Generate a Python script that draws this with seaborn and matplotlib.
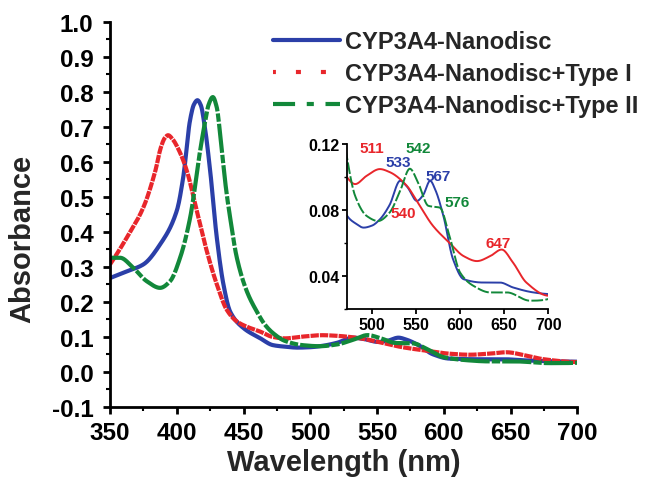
import numpy as np
import pandas as pd
import matplotlib
matplotlib.use("Agg")
import matplotlib.pyplot as plt
from matplotlib.ticker import MultipleLocator, FormatStrFormatter
from matplotlib.lines import Line2D
import seaborn as sns

# Absorbance spectra (wavelength in nm)
wl_free = [350, 362.5, 375, 387.5, 400, 405, 410, 413, 415.5, 418, 421, 425, 430, 435,
           440, 450, 462.5, 472, 481, 490.6, 500, 509, 520, 532, 540, 551, 558, 566, 572,
           581, 592, 604, 626, 645, 660, 683, 700]
abs_free = [0.268, 0.287, 0.307, 0.364, 0.46, 0.56, 0.72, 0.765, 0.776, 0.762, 0.70,
            0.575, 0.383, 0.249, 0.172, 0.125, 0.096, 0.0764, 0.072, 0.0693, 0.0705,
            0.0743, 0.083, 0.0977, 0.094, 0.0855, 0.089, 0.0977, 0.092, 0.0764, 0.050,
            0.038, 0.036, 0.036, 0.033, 0.030, 0.029]

wl_type1 = [350, 362.5, 375, 384, 388, 391, 393.5, 397, 402, 407.5, 415, 422.5, 430,
            437.5, 445, 452.5, 462.5, 472, 481, 494, 509, 520, 539, 552, 569, 588, 604,
            619, 634, 647, 660, 675, 700]
abs_type1 = [0.307, 0.383, 0.47, 0.575, 0.64, 0.668, 0.676, 0.664, 0.63, 0.575, 0.46,
             0.345, 0.25, 0.177, 0.144, 0.129, 0.115, 0.0997, 0.0957, 0.1007, 0.1048,
             0.103, 0.095, 0.0845, 0.0705, 0.060, 0.052, 0.049, 0.052, 0.056, 0.048,
             0.036, 0.028]

wl_type2 = [350, 357.5, 367.5, 377.5, 387.5, 395, 402.5, 410, 417.5, 421, 424, 427,
            430, 433, 437, 440, 445, 452.5, 460, 466, 472, 481, 494, 507, 520, 532, 543,
            552, 564, 577, 588, 600, 615, 634, 653, 679, 700]
abs_type2 = [0.326, 0.326, 0.297, 0.259, 0.24, 0.259, 0.326, 0.44, 0.632, 0.71, 0.765,
             0.785, 0.755, 0.66, 0.52, 0.44, 0.326, 0.23, 0.172, 0.135, 0.111, 0.0885,
             0.0764, 0.0733, 0.0784, 0.0916, 0.105, 0.097, 0.0825, 0.0814, 0.064, 0.042,
             0.034, 0.030, 0.030, 0.025, 0.026]

series_names = ["CYP3A4-Nanodisc", "CYP3A4-Nanodisc+Type I", "CYP3A4-Nanodisc+Type II"]
series_colors = ["#2b3fa8", "#e8262b", "#12883a"]

# Peak labels in the visible region: (text, x, y, series index)
peak_labels = [("511", 500, 0.1175, 1), ("533", 530, 0.109, 0), ("542", 552, 0.1175, 2),
               ("567", 575, 0.1005, 0), ("540", 535, 0.078, 1), ("576", 596, 0.085, 2),
               ("647", 643, 0.060, 1)]


def resample(x, y, n=700):
    """Evaluate a shape-preserving curve through the measured points on a fine grid."""
    xs = np.linspace(min(x), max(x), n)
    s = pd.Series(y, index=np.asarray(x, float))
    s = s.reindex(s.index.union(xs)).interpolate(method="pchip")
    return xs, s.loc[xs].values


frames = []
for name, x, y in zip(series_names, [wl_free, wl_type1, wl_type2],
                      [abs_free, abs_type1, abs_type2]):
    xs, ys = resample(x, y)
    frames.append(pd.DataFrame({"Wavelength": xs, "Absorbance": ys, "Sample": name}))
df = pd.concat(frames, ignore_index=True)

sns.set_theme(style="ticks")
plt.rcParams["font.family"] = ["Liberation Sans", "DejaVu Sans"]
plt.rcParams["font.weight"] = "bold"

fig = plt.figure(figsize=(6.49, 4.85), dpi=100)
ax = fig.add_axes([0.1695, 0.159, 0.72, 0.794])

palette = dict(zip(series_names, series_colors))
dashes = {series_names[0]: "",
          series_names[1]: (2.0, 0.25),
          series_names[2]: (7, 0.5, 2, 0.5)}
sns.lineplot(data=df, x="Wavelength", y="Absorbance", hue="Sample", style="Sample",
             palette=palette, dashes=dashes, linewidth=3.0, ax=ax, legend=False)

ax.set_xlim(350, 700)
ax.set_ylim(-0.1, 1.0)
ax.xaxis.set_major_locator(MultipleLocator(50))
ax.xaxis.set_minor_locator(MultipleLocator(25))
ax.yaxis.set_major_locator(MultipleLocator(0.1))
ax.yaxis.set_minor_locator(MultipleLocator(0.05))
ax.yaxis.set_major_formatter(FormatStrFormatter("%.1f"))
sns.despine(ax=ax)
for sp in ("left", "bottom"):
    ax.spines[sp].set_linewidth(2)
    ax.spines[sp].set_color("black")
ax.tick_params(which="major", direction="out", length=5, width=2, labelsize=17.5,
               pad=5, colors="black")
ax.tick_params(axis="y", which="major", pad=7)
ax.tick_params(which="minor", direction="out", length=3, width=1.5, colors="black")
for lab in ax.get_xticklabels() + ax.get_yticklabels():
    lab.set_fontweight("bold")
ax.set_xlabel("Wavelength (nm)", fontsize=21, fontweight="bold", labelpad=3)
ax.set_ylabel("Absorbance", fontsize=21, fontweight="bold")
ax.yaxis.set_label_coords(-0.158, 0.44)

# legend
handles = [
    Line2D([], [], color=series_colors[0], lw=3.0, ls="-"),
    Line2D([], [], color=series_colors[1], lw=3.0, ls=(0.5, (1.2, 4.8))),
    Line2D([], [], color=series_colors[2], lw=3.0, ls=(0, (5.3, 2.8, 1.7, 2.8))),
]
fig.legend(handles, series_names, loc="upper left", bbox_to_anchor=(273 / 649, 1 - 31 / 485),
           bbox_transform=fig.transFigure, frameon=False,
           prop={"weight": "bold", "size": 17}, handlelength=2.85, handletextpad=0.2,
           labelspacing=0.38, borderpad=0, borderaxespad=0)

# inset: visible region
ins = fig.add_axes([0.535, 0.361, 0.31, 0.340])
sub = df[df["Wavelength"] >= 470]
sns.lineplot(data=sub, x="Wavelength", y="Absorbance", hue="Sample", style="Sample",
             palette=palette, dashes={series_names[0]: "", series_names[1]: "",
                                      series_names[2]: (6, 1.2)},
             linewidth=1.4, ax=ins, legend=False)
ins.set_xlim(472, 700)
ins.set_ylim(0.02, 0.12)
ins.xaxis.set_major_locator(MultipleLocator(50))
ins.yaxis.set_major_locator(MultipleLocator(0.04))
ins.yaxis.set_minor_locator(MultipleLocator(0.02))
ins.yaxis.set_major_formatter(FormatStrFormatter("%.2f"))
ins.set_xlabel("")
ins.set_ylabel("")
ins.patch.set_alpha(0)
sns.despine(ax=ins)
for sp in ("left", "bottom"):
    ins.spines[sp].set_linewidth(1.3)
    ins.spines[sp].set_color("black")
ins.tick_params(which="major", direction="out", length=3.5, width=1.3, labelsize=11.5,
                pad=2, colors="black")
ins.tick_params(which="minor", direction="out", length=2, width=1, colors="black")
for lab in ins.get_xticklabels() + ins.get_yticklabels():
    lab.set_fontweight("bold")

for text, x, y, idx in peak_labels:
    ins.text(x, y, text, color=series_colors[idx], fontsize=11, fontweight="bold",
             ha="center", va="center")

fig.savefig("out.png", dpi=100)
